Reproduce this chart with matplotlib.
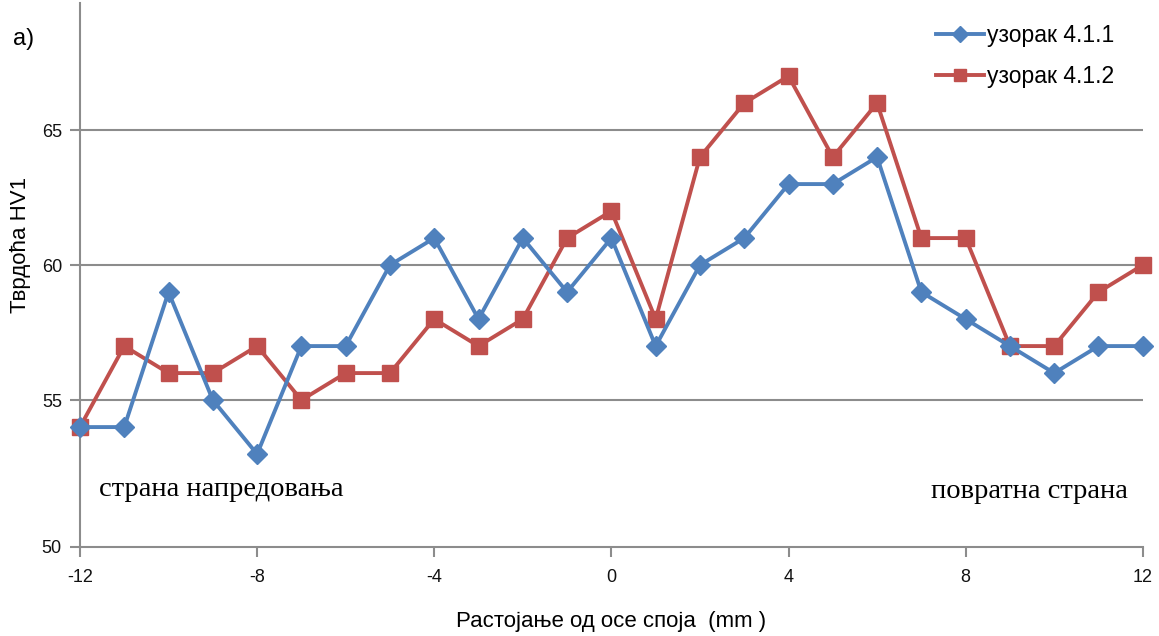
import numpy as np
import matplotlib
matplotlib.use('Agg')
import matplotlib.pyplot as plt

# растојање од осе споја (mm)
x = list(range(-12, 13))

# тврдоћа HV1
uzorak_411 = [54, 54, 59, 55, 53, 57, 57, 60, 61, 58, 61, 59, 61, 57, 60, 61,
              63, 63, 64, 59, 58, 57, 56, 57, 57]
uzorak_412 = [54, 57, 56, 56, 57, 55, 56, 56, 58, 57, 58, 61, 62, 58, 64, 66,
              67, 64, 66, 61, 61, 57, 57, 59, 60]

x_ticks = [-12, -8, -4, 0, 4, 8, 12]
y_ticks = [55, 60, 65]

plt.rcParams['font.family'] = ['Liberation Sans', 'DejaVu Sans']

fig = plt.figure(figsize=(11.59, 6.36), dpi=100)
ax = fig.add_axes([0.069, 0.14, 0.917, 0.855])

blue = '#4F81BD'
red = '#C0504D'

ax.plot(x, uzorak_411, color=blue, lw=2.8, marker='D', markersize=10.5,
        label='узорак 4.1.1', zorder=4, clip_on=False)
ax.plot(x, uzorak_412, color=red, lw=2.8, marker='s', markersize=11,
        label='узорак 4.1.2', zorder=3, clip_on=False)

y_bottom = 49.56
ax.set_xlim(-12, 12)
ax.set_ylim(y_bottom, 69.7)
ax.set_xticks(x_ticks)
ax.set_xticklabels([str(v) for v in x_ticks])
# доња ивица осе носи ознаку 50
ax.set_yticks([y_bottom] + y_ticks)
ax.set_yticklabels(['50'] + [str(v) for v in y_ticks])

for v in y_ticks:
    ax.axhline(v, color='#8c8c8c', lw=1.5, zorder=1)

for s in ['top', 'right']:
    ax.spines[s].set_visible(False)
for s in ['left', 'bottom']:
    ax.spines[s].set_color('#8c8c8c')
    ax.spines[s].set_linewidth(1.5)

ax.tick_params(axis='both', colors='#8c8c8c', length=7, width=1.5,
               labelcolor='#111111', labelsize=13, pad=9)
ax.tick_params(axis='y', pad=6)

ax.set_xlabel('Растојање од осе споја  (mm )', fontsize=16, labelpad=18)
ax.set_ylabel('Тврдоћа HV1', fontsize=16)
ax.yaxis.set_label_coords(-0.046, 0.555)

ax.text(-12 + 0.42, 51.67, 'страна напредовања', family='Liberation Serif',
        fontsize=20.5, va='center', ha='left')
ax.text(11.66, 51.6, 'повратна страна', family='Liberation Serif',
        fontsize=20.5, va='center', ha='right')
fig.text(0.011, 0.938, 'a)', fontsize=17, ha='left', va='center')

ax.legend(loc='upper right', bbox_to_anchor=(0.993, 1.0), frameon=False,
          fontsize=16.5, handlelength=2.1, handletextpad=0.15,
          labelspacing=0.8, markerscale=0.8)

fig.savefig('out.png', dpi=100)
